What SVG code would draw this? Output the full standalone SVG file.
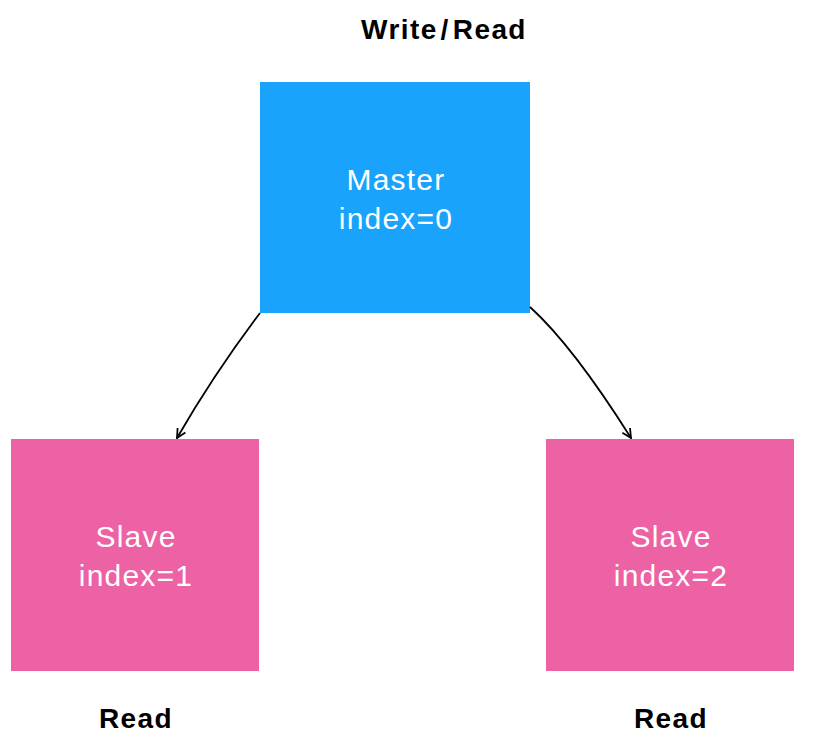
<svg xmlns="http://www.w3.org/2000/svg" width="820" height="755" viewBox="0 0 820 755">
<defs>
<style>
.lbl{font-family:"Liberation Sans",Arial,sans-serif;font-size:30px;fill:#ffffff;text-anchor:middle;letter-spacing:1.2px}
.cap{font-family:"Liberation Sans",Arial,sans-serif;font-size:28px;font-weight:bold;fill:#000000;text-anchor:middle;letter-spacing:1.4px}
.edge{fill:none;stroke:#000000;stroke-width:1.8}
</style>
<marker id="arr" viewBox="0 0 12 12" refX="10.5" refY="6" markerWidth="12" markerHeight="12" markerUnits="userSpaceOnUse" orient="auto">
<path d="M1.5,1.5 L10.5,6 L1.5,10.5" fill="none" stroke="#000000" stroke-width="1.8"/>
</marker>
</defs>
<rect width="820" height="755" fill="#ffffff"/>
<text class="cap" x="444" y="39">Write<tspan dx="3">/</tspan><tspan dx="3">Read</tspan></text>
<g id="master">
<rect x="260" y="82" width="270" height="231" fill="#1aa3fd"/>
<text class="lbl" x="396" y="190">Master</text>
<text class="lbl" x="396" y="229">index=0</text>
</g>
<g id="slave1">
<rect x="11" y="439" width="248" height="232" fill="#ec62a4"/>
<text class="lbl" x="136" y="547">Slave</text>
<text class="lbl" x="136" y="586">index=1</text>
<text class="cap" x="136" y="728">Read</text>
</g>
<g id="slave2">
<rect x="546" y="439" width="248" height="232" fill="#ec62a4"/>
<text class="lbl" x="671" y="547">Slave</text>
<text class="lbl" x="671" y="586">index=2</text>
<text class="cap" x="671" y="728">Read</text>
</g>
<g id="connectors">
<path class="edge" d="M260,313 Q214,374 177,438" marker-end="url(#arr)"/>
<path class="edge" d="M530,307 Q573,346 631,438" marker-end="url(#arr)"/>
</g>
</svg>
